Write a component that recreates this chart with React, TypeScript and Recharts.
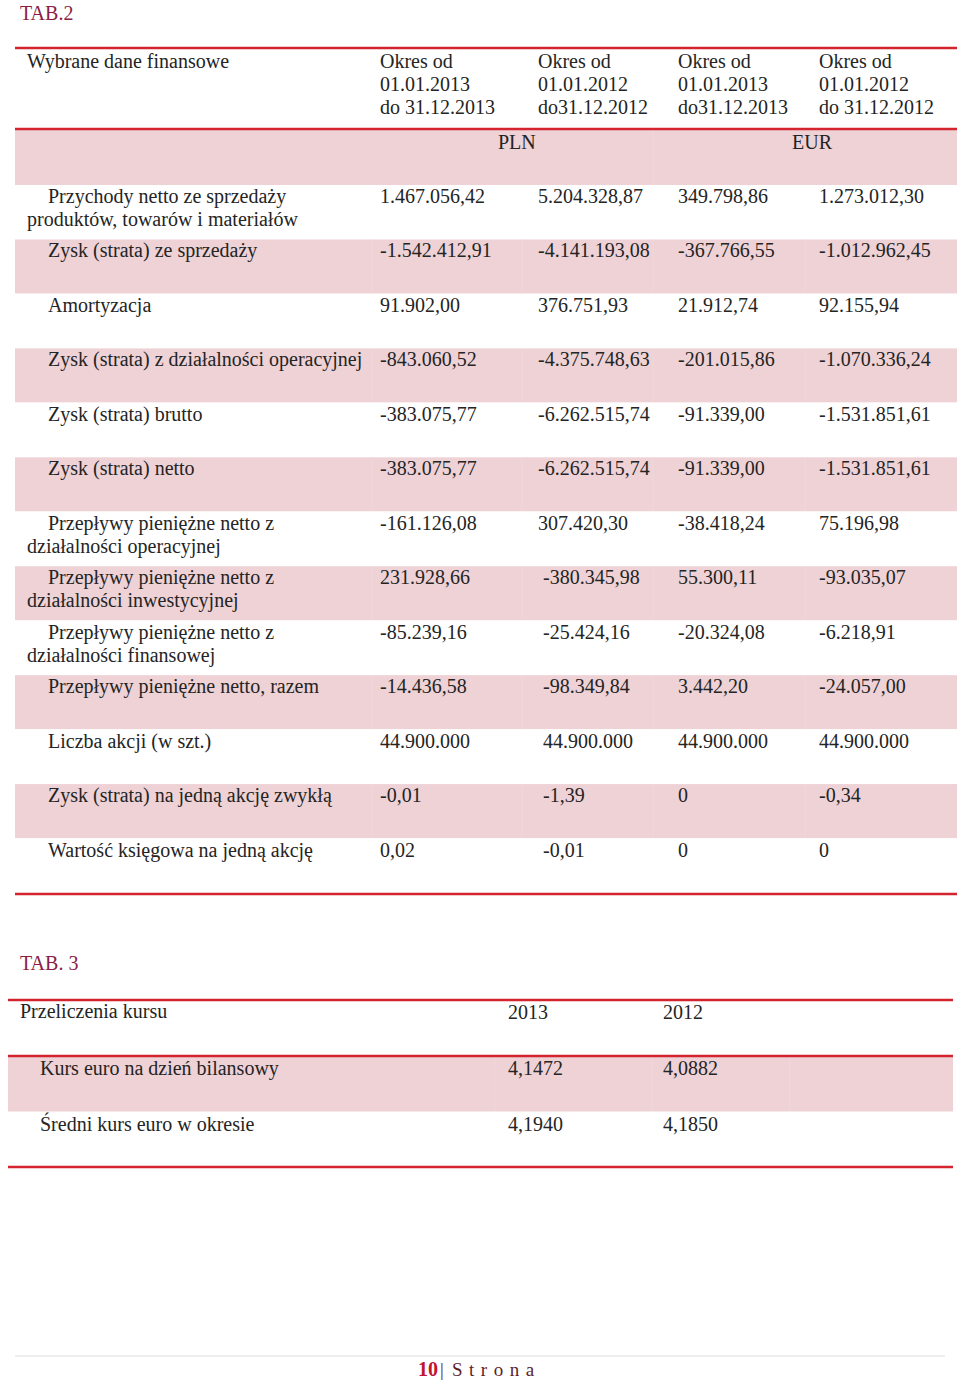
import { Bar, BarChart, XAxis, YAxis } from "recharts";

const FONT = "'Liberation Serif', 'Times New Roman', serif";

const colors = {
  text: "#242424",
  pink: "#eed2d6",
  seam: "#f0d8db",
  red: "#d4252e",
  tab: "#8c1d44",
  rule: "#dddddd",
  footRed: "#c4122f",
  footDark: "#5e1e2c",
};

// TAB.2 - header
const periodHeaders = [
  ["Okres od", "01.01.2013", "do 31.12.2013"],
  ["Okres od", "01.01.2012", "do31.12.2012"],
  ["Okres od", "01.01.2013", "do31.12.2013"],
  ["Okres od", "01.01.2012", "do 31.12.2012"],
];
const currencies = ["PLN", "EUR"];

// TAB.2 - rows
const rowLabels = [
  "Przychody netto ze sprzedaży\nproduktów, towarów i materiałów",
  "Zysk (strata) ze sprzedaży",
  "Amortyzacja",
  "Zysk (strata) z działalności operacyjnej",
  "Zysk (strata) brutto",
  "Zysk (strata) netto",
  "Przepływy pieniężne netto z\ndziałalności operacyjnej",
  "Przepływy pieniężne netto z\ndziałalności inwestycyjnej",
  "Przepływy pieniężne netto z\ndziałalności finansowej",
  "Przepływy pieniężne netto, razem",
  "Liczba akcji (w szt.)",
  "Zysk (strata) na jedną akcję zwykłą",
  "Wartość księgowa na jedną akcję",
];
const pln2013 = [
  "1.467.056,42", "-1.542.412,91", "91.902,00", "-843.060,52", "-383.075,77", "-383.075,77",
  "-161.126,08", "231.928,66", "-85.239,16", "-14.436,58", "44.900.000", "-0,01", "0,02",
];
const pln2012 = [
  "5.204.328,87", "-4.141.193,08", "376.751,93", "-4.375.748,63", "-6.262.515,74", "-6.262.515,74",
  "307.420,30", "\u00a0-380.345,98", "\u00a0-25.424,16", "\u00a0-98.349,84", "\u00a044.900.000", "\u00a0-1,39", "\u00a0-0,01",
];
const eur2013 = [
  "349.798,86", "-367.766,55", "21.912,74", "-201.015,86", "-91.339,00", "-91.339,00",
  "-38.418,24", "55.300,11", "-20.324,08", "3.442,20", "44.900.000", "0", "0",
];
const eur2012 = [
  "1.273.012,30", "-1.012.962,45", "92.155,94", "-1.070.336,24", "-1.531.851,61", "-1.531.851,61",
  "75.196,98", "-93.035,07", "-6.218,91", "-24.057,00", "44.900.000", "-0,34", "0",
];

// TAB. 3
const rateTitle = "Przeliczenia kursu";
const rateYears = ["2013", "2012"];
const rateLabels = ["Kurs euro na dzień bilansowy", "Średni kurs euro w okresie"];
const rate2013 = ["4,1472", "4,1940"];
const rate2012 = ["4,0882", "4,1850"];

const finRows = rowLabels.map((label, i) => ({
  label,
  values: [pln2013[i], pln2012[i], eur2013[i], eur2012[i]],
}));
const rateRows = rateLabels.map((label, i) => ({ label, values: [rate2013[i], rate2012[i]] }));

// layout (page coordinates)
const T2 = { left: 15, right: 957, top: 185, bottom: 893 };
const T2_COLS = [380, 538, 678, 819];
const T2_SEAMS = [372, 522, 653, 805];
const T3 = { left: 8, right: 953, top: 1056, bottom: 1167 };
const T3_COLS = [508, 663];
const T3_SEAMS = [495, 652, 790];

function FinRow(props: any) {
  const { x, y, width, height, index } = props;
  const row = finRows[index];
  const shaded = index % 2 === 1;
  const lines = row.label.split("\n");
  const ox = x - T2.left;
  return (
    <g>
      <rect x={x} y={y} width={width} height={height} fill={shaded ? colors.pink : "#fff"} />
      {shaded &&
        T2_SEAMS.map((sx) => (
          <line key={sx} x1={ox + sx} x2={ox + sx} y1={y} y2={y + height} stroke={colors.seam} strokeWidth={1} />
        ))}
      {lines.map((ln: string, li: number) => (
        <text key={li} x={ox + (li === 0 ? 48 : 27)} y={y + 18 + li * 23} fontFamily={FONT} fontSize={20} fill={colors.text}>
          {ln}
        </text>
      ))}
      {row.values.map((v: string, ci: number) => (
        <text key={ci} x={ox + T2_COLS[ci]} y={y + 18} fontFamily={FONT} fontSize={20} fill={colors.text}>
          {v}
        </text>
      ))}
    </g>
  );
}

function RateRow(props: any) {
  const { x, y, width, height, index } = props;
  const row = rateRows[index];
  const shaded = index % 2 === 0;
  const ox = x - T3.left;
  return (
    <g>
      <rect x={x} y={y} width={width} height={height} fill={shaded ? colors.pink : "#fff"} />
      {shaded &&
        T3_SEAMS.map((sx) => (
          <line key={sx} x1={ox + sx} x2={ox + sx} y1={y} y2={y + height} stroke={colors.seam} strokeWidth={1} />
        ))}
      <text x={ox + 40} y={y + 19} fontFamily={FONT} fontSize={20} fill={colors.text}>
        {row.label}
      </text>
      {row.values.map((v: string, ci: number) => (
        <text key={ci} x={ox + T3_COLS[ci]} y={y + 19} fontFamily={FONT} fontSize={20} fill={colors.text}>
          {v}
        </text>
      ))}
    </g>
  );
}

function RowTable({ data, box, shape }: { data: any[]; box: typeof T2; shape: any }) {
  return (
    <div style={{ position: "absolute", left: box.left, top: box.top }}>
      <BarChart
        width={box.right - box.left}
        height={box.bottom - box.top}
        data={data}
        layout="vertical"
        margin={{ top: 0, right: 0, bottom: 0, left: 0 }}
        barCategoryGap={0}
      >
        <XAxis type="number" domain={[0, 1]} hide />
        <YAxis type="category" dataKey="label" hide />
        <Bar dataKey={() => 1} shape={shape} isAnimationActive={false} />
      </BarChart>
    </div>
  );
}

function redLine(y: number, x1: number, x2: number) {
  return <line x1={x1} x2={x2} y1={y} y2={y} stroke={colors.red} strokeWidth={2.5} />;
}

export default function App() {
  const t = { fontFamily: FONT, fontSize: 20, fill: colors.text };
  return (
    <div style={{ position: "absolute", left: 0, top: 0, width: 960, height: 1380, background: "#fff" }}>
      <RowTable data={finRows} box={T2} shape={FinRow} />
      <RowTable data={rateRows} box={T3} shape={RateRow} />
      <svg width={960} height={1380} style={{ position: "absolute", left: 0, top: 0, pointerEvents: "none" }}>
        <text x={20} y={20} fontFamily={FONT} fontSize={20} fill={colors.tab}>TAB.2</text>
        <rect x={T2.left} y={129} width={T2.right - T2.left} height={56} fill={colors.pink} />
        <line x1={653} x2={653} y1={130} y2={185} stroke={colors.seam} strokeWidth={1} />
        <text x={27} y={68} {...t}>Wybrane dane finansowe</text>
        {periodHeaders.map((lines, ci) =>
          lines.map((ln, li) => (
            <text key={`${ci}-${li}`} x={T2_COLS[ci]} y={68 + li * 23} {...t}>{ln}</text>
          ))
        )}
        <text x={498} y={149} {...t}>{currencies[0]}</text>
        <text x={792} y={149} {...t}>{currencies[1]}</text>
        {redLine(48, T2.left, T2.right)}
        {redLine(129, T2.left, T2.right)}
        {redLine(894, T2.left, T2.right)}

        <text x={20} y={970} fontFamily={FONT} fontSize={20} fill={colors.tab}>TAB. 3</text>
        <text x={20} y={1018} {...t}>{rateTitle}</text>
        <text x={T3_COLS[0]} y={1019} {...t}>{rateYears[0]}</text>
        <text x={T3_COLS[1]} y={1019} {...t}>{rateYears[1]}</text>
        {redLine(1000, T3.left, T3.right)}
        {redLine(1056, T3.left, T3.right)}
        {redLine(1167, T3.left, T3.right)}

        <line x1={15} x2={945} y1={1356} y2={1356} stroke={colors.rule} strokeWidth={1} />
        <text x={418} y={1376} fontFamily={FONT} fontSize={20} fontWeight="bold" fill={colors.footRed}>10</text>
        <text x={440} y={1376} fontFamily={FONT} fontSize={19} fill={colors.footDark}>|</text>
        <text x={452} y={1376} fontFamily={FONT} fontSize={19} letterSpacing={6.5} fill={colors.footDark}>Strona</text>
      </svg>
    </div>
  );
}
